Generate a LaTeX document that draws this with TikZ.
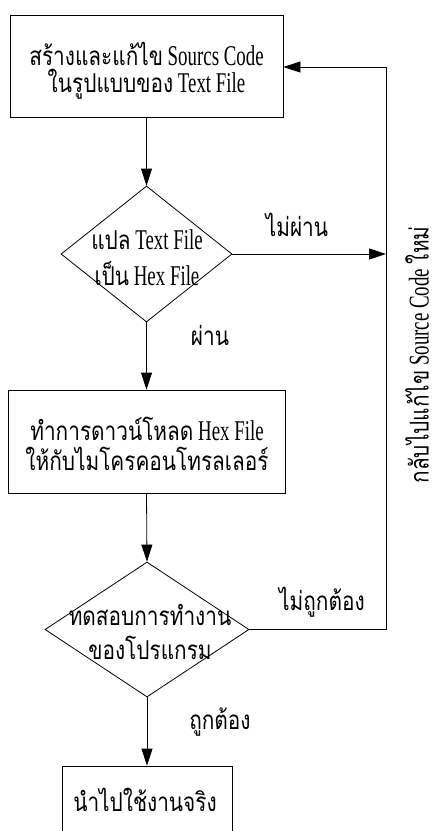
\documentclass[tikz,border=0pt]{standalone}
\usepackage{fontspec}
\setmainfont[FakeStretch=0.66,Scale=1.1]{Liberation Serif}
\newfontfamily\thaifont[Script=Thai,FakeStretch=0.8]{Loma}
\newcommand{\tf}[1]{{\thaifont #1}}
\usetikzlibrary{shapes.geometric,arrows.meta}
\begin{document}
\begin{tikzpicture}[x=1pt,y=-1pt,
  line width=0.8pt,
  box/.style={draw,rectangle,inner sep=0pt},
  dia/.style={draw,diamond,inner sep=0pt},
  txt/.style={align=center,inner sep=0pt,font=\fontsize{26}{27}\selectfont},
  lbl/.style={inner sep=0pt,font=\fontsize{26}{27}\selectfont},
  arr/.style={-{Triangle[length=17pt,width=11pt]}}]
\useasboundingbox (0,0) rectangle (436,831);
\clip (0,0) rectangle (436,831);
% nodes
\node[box,minimum width=273pt,minimum height=102pt] (b1) at (146.5,66) {};
\node[txt] (t1) at (146.5,71) {\tf{สร้างและแก้ไข} Sourcs Code\\\tf{ในรูปแบบของ} Text File};
\node[dia,minimum width=171pt,minimum height=136pt] (d1) at (146.5,254) {};
\node[txt,font=\fontsize{26}{36}\selectfont] (t2) at (147,258) {\tf{แปล} Text File\\\tf{เป็น} Hex File};
\node[box,minimum width=277pt,minimum height=103pt] (b2) at (146.5,441.5) {};
\node[txt,font=\fontsize{26}{30}\selectfont] (t3) at (147,444) {\tf{ทำการดาวน์โหลด} Hex File\\\tf{ให้กับไมโครคอนโทรลเลอร์}};
\node[dia,minimum width=204pt,minimum height=135pt] (d2) at (147,629.5) {};
\node[txt,font=\fontsize{26}{34}\selectfont] (t4) at (150,632) {\tf{ทดสอบการทำงาน}\\\tf{ของโปรแกรม}};
\node[box,minimum width=170pt,minimum height=90pt] (b3) at (147,811) {};
\node[txt] (t5) at (145,800) {\tf{นำไปใช้งานจริง}};
% labels
\node[lbl] (l1) at (297,225) {\tf{ไม่ผ่าน}};
\node[lbl] (l2) at (210,335) {\tf{ผ่าน}};
\node[lbl] (l3) at (322,602) {\tf{ไม่ถูกต้อง}};
\node[lbl] (l4) at (220,722) {\tf{ถูกต้อง}};
\node[lbl,rotate=90] (l5) at (417,355) {\tf{กลับไปแก้ไข} Source Code \tf{ใหม่}};
% return path
\coordinate (rtop) at (386,67);
\coordinate (rbot) at (386,629.5);
% connectors
\draw[arr] (b1.south) -- (d1.north);
\draw[arr] (d1.east) -- (d1.east -| rtop);
\draw[arr] (d1.south) -- (b2.north);
\draw[arr] (b2.south) -- (d2.north);
\draw[arr] (d2.south) -- (b3.north);
\draw[arr] (d2.east) -- (rbot) -- (rtop) -- (b1.east |- rtop);
\end{tikzpicture}
\end{document}
